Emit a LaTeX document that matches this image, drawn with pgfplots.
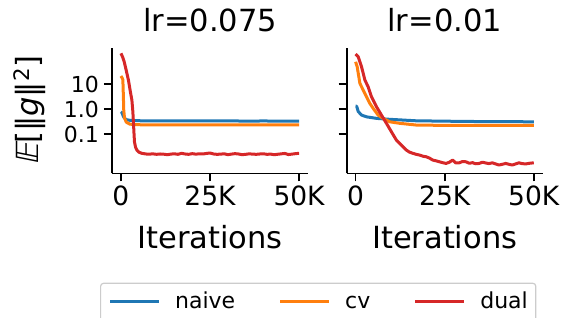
\documentclass[border=0pt]{standalone}
\usepackage{pgfplots}
\pgfplotsset{compat=1.18}
\usepackage{fontspec}
\setmainfont{DejaVu Sans}
\newfontfamily\slbb[FakeSlant=0.2]{DejaVu Sans}
\definecolor{tabblue}{HTML}{1F77B4}
\definecolor{taborange}{HTML}{FF7F0E}
\definecolor{tabred}{HTML}{D62728}
\definecolor{legframe}{HTML}{CCCCCC}
\newcommand{\bigf}{\fontsize{30.5bp}{36bp}\selectfont}
\newcommand{\xtf}{\fontsize{26.5bp}{31bp}\selectfont}
\newcommand{\ytf}{\fontsize{22bp}{26bp}\selectfont}
\newcommand{\legf}{\fontsize{22bp}{26bp}\selectfont}
\pgfplotsset{
 mystyle/.style={
  scale only axis, width=196bp, height=125bp,
  xmin=-2500, xmax=52500, ymin=0.0027, ymax=270,
  axis lines=left, axis line style={-, line width=1.6bp, black},
  every tick/.style={black, line width=1.6bp},
  tick align=outside, major tick length=8bp,
  xtick={0,25000,50000}, xticklabels={0,25K,50K},
  ytick={0.1,1,10}, yminorticks=false, xminorticks=false,
  scaled x ticks=false,
  /pgf/number format/assume math mode=true,
  xticklabel style={font=\xtf, inner sep=0pt, anchor=north, yshift=-4bp},
  yticklabel style={font=\ytf, inner sep=0pt, anchor=east, xshift=-5bp},
  title style={font=\bigf, at={(axis description cs:0.5,1.088)}, anchor=base, inner sep=0pt},
  xlabel style={font=\bigf, at={(axis description cs:0.5,-0.6)}, anchor=base, inner sep=0pt},
  xlabel={Iterations},
  every axis plot/.append style={line width=3bp, line join=round},
 }
}
\begin{document}
\begin{tikzpicture}
\begin{semilogyaxis}[mystyle, name=ax1, at={(0,0)}, anchor=south west,
  title={lr=0.075},
  yticklabels={0.1,1.0,10},
  ylabel={{\slbb 𝔼}[‖\textit{g}‖\textsuperscript{2}]},
  ylabel style={font=\bigf, at={(axis description cs:-0.42,0.5)}, anchor=center},
  legend columns=3,
  legend style={at={(axis description cs:-0.0612,-0.875)}, anchor=north west,
    draw=legframe, line width=1.2bp, rounded corners=3bp,
    inner xsep=8bp, inner ysep=8.9bp,
    nodes={inner sep=0pt, text height=16.7bp, text depth=4.4bp, font=\legf},
    /tikz/every odd column/.append style={column sep=14.5bp},
    /tikz/every even column/.append style={column sep=43.5bp}},
  legend image code/.code={\path[draw=none,fill=none] (0bp,-10.55bp) rectangle (49bp,10.55bp); \draw[#1] (0bp,1.45bp) -- (49bp,1.45bp);},
]
\addplot[tabblue] coordinates {(0,0.78)(300,0.72)(600,0.55)(900,0.45)(1500,0.38)(2500,0.355)(4000,0.345)(6000,0.34)(10000,0.338)(15000,0.335)(20000,0.336)(25000,0.334)(30000,0.335)(35000,0.333)(40000,0.334)(45000,0.333)(50000,0.333)};
\addlegendentry{naive}
\addplot[taborange] coordinates {(0,21)(300,18)(550,15)(700,3.0)(800,0.9)(1000,0.45)(1500,0.3)(2500,0.25)(4000,0.237)(8000,0.235)(15000,0.234)(25000,0.234)(35000,0.233)(50000,0.233)};
\addlegendentry{cv}
\addplot[tabred] coordinates {(0,170)(500,120)(925,78)(1500,35)(2130,14)(2600,5.5)(3080,2.3)(3350,0.8)(3530,0.27)(3700,0.09)(3810,0.049)(4100,0.03)(4480,0.023)(5000,0.019)(5880,0.017)
(7000,0.0160)(8000,0.0158)(9000,0.0162)(10000,0.0155)(11000,0.0160)(12000,0.0157)(13000,0.0150)(14000,0.0158)(15000,0.0163)(16000,0.0155)(17000,0.0170)(18000,0.0160)(19000,0.0155)(20000,0.0165)(21000,0.0158)(22000,0.0162)(23000,0.0160)(24000,0.0168)(25000,0.0175)(26000,0.0160)(27000,0.0155)(28000,0.0158)(29000,0.0163)(30000,0.0150)(31000,0.0158)(32000,0.0165)(33000,0.0160)(34000,0.0150)(35000,0.0155)(36000,0.0162)(37000,0.0158)(38000,0.0155)(39000,0.0160)(40000,0.0163)(41000,0.0155)(42000,0.0158)(43000,0.0150)(44000,0.0156)(45000,0.0162)(46000,0.0168)(47000,0.0152)(48000,0.0158)(49000,0.0165)(50000,0.0170)};
\addlegendentry{dual}
\end{semilogyaxis}
\begin{semilogyaxis}[mystyle, name=ax2, at={(234.7bp,0)}, anchor=south west,
  title={lr=0.01},
  yticklabels={,,},
]
\addplot[tabblue] coordinates {(0,1.3)(300,1.3)(730,0.8)(1670,0.575)(3060,0.49)(5860,0.425)(9570,0.39)(17010,0.34)(24000,0.33)(30950,0.32)(40000,0.315)(50000,0.31)};
\addplot[taborange] coordinates {(0,78)(450,49)(1200,10.7)(2130,5.75)(3060,3.1)(3990,1.69)(4920,1.07)(6310,0.575)(7700,0.425)(9570,0.31)(12350,0.27)(17010,0.23)(23520,0.224)(35000,0.223)(50000,0.224)};
\addplot[tabred] coordinates {(0,158)(730,124)(1670,49)(2600,14.5)(3520,7.8)(4460,3.1)(5860,1.24)(7250,0.575)(8650,0.27)(10040,0.124)(11430,0.058)(12830,0.036)(14220,0.023)(15100,0.019)(16080,0.017)(17000,0.0155)(17940,0.0145)(18900,0.0130)(19800,0.0124)(20700,0.0110)(21660,0.0091)(22600,0.0085)(23520,0.0078)(24400,0.0072)(25380,0.0067)(26300,0.0075)(27240,0.0091)(28100,0.0070)(29100,0.0071)(30000,0.0080)(30950,0.0078)(31900,0.0068)(32800,0.0072)(33700,0.0065)(34670,0.0067)(35600,0.0075)(36500,0.0070)(37400,0.0066)(38380,0.0071)(39300,0.0064)(40240,0.0058)(41200,0.0062)(42110,0.0067)(43000,0.0062)(43960,0.0058)(44900,0.0064)(45820,0.0071)(46700,0.0066)(47690,0.0064)(48800,0.0068)(50000,0.0071)};
\end{semilogyaxis}
\pgfresetboundingbox
\path[use as bounding box] (-112bp,-144.7bp) rectangle (455bp,173.3bp);
\end{tikzpicture}
\end{document}
